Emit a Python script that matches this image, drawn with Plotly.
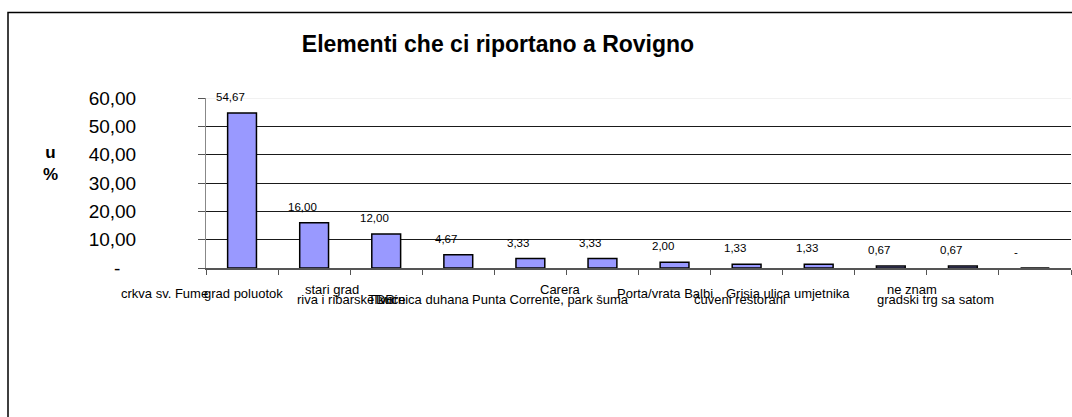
import plotly.graph_objects as go

# ---------------- data ----------------
chart_title = "Elementi che ci riportano a Rovigno"
y_title = "u<br>%"
values = [54.67, 16.00, 12.00, 4.67, 3.33, 3.33, 2.00, 1.33, 1.33, 0.67, 0.67, 0.00]
value_text = ["54,67", "16,00", "12,00", "4,67", "3,33", "3,33", "2,00",
              "1,33", "1,33", "0,67", "0,67", "-"]
y_tick_vals = [0, 10, 20, 30, 40, 50, 60]
y_tick_text = ["-\u00a0\u00a0\u00a0", "10,00", "20,00", "30,00", "40,00", "50,00", "60,00"]
category_labels = ["crkva sv. Fume", "grad poluotok", "stari grad", "riva i ribarske kuće",
                   "TDR", "Tvornica duhana", "Carera", "Punta Corrente, park šuma",
                   "Porta/vrata Balbi", "čuveni restorani", "Grisia ulica umjetnika",
                   "ne znam", "gradski trg sa satom"]

# ---------------- layout helpers ----------------
FONT = "Liberation Sans, Arial, sans-serif"
W, H = 1072, 417
L, R, T, B = 206, 1, 98, 149
PW, PH = W - L - R, H - T - B
n = len(values)


def px_to_paper_x(px):
    return (px - L) / PW


def py_to_paper(py):
    return (H - B - py) / PH


rows = {"up": py_to_paper(289.5), "mid": py_to_paper(293.5), "low": py_to_paper(299.5)}
# (pixel anchor, row, xanchor) for each displayed category label
label_layout = [(164, "mid", "center"), (243, "mid", "center"), (332, "up", "center"),
                (295, "low", "left"), (366, "low", "left"), (472, "low", "right"),
                (560, "up", "center"), (550, "low", "center"), (665, "mid", "center"),
                (692, "low", "left"), (788, "mid", "center"), (912, "up", "center"),
                (935, "low", "center")]

xs = list(range(n))

fig = go.Figure()
fig.add_trace(go.Bar(
    x=xs, y=values, width=0.4,
    marker=dict(color="#9999FF", line=dict(color="#000000", width=1.5)),
    hovertext=value_text, hoverinfo="text",
))

annotations = []
# value labels
for i, (v, t) in enumerate(zip(values, value_text)):
    annotations.append(dict(x=xs[i], y=v, xref="x", yref="y", text=t, showarrow=False,
                            yanchor="bottom", xanchor="center", yshift=8,
                            xshift=-12 if v > 0 else -19,
                            font=dict(family=FONT, size=11.5, color="#000")))
# category labels
for text, (px, row, xa) in zip(category_labels, label_layout):
    annotations.append(dict(x=px_to_paper_x(px), y=rows[row], xref="paper", yref="paper",
                            text=text, showarrow=False, xanchor=xa, yanchor="middle",
                            font=dict(family=FONT, size=13, color="#000")))
# y title
annotations.append(dict(x=px_to_paper_x(41), y=py_to_paper(163), xref="paper", yref="paper",
                        text="<b>" + y_title + "</b>", showarrow=False, align="center",
                        font=dict(family=FONT, size=17, color="#000")))

shapes = [
    # lighter top gridline
    dict(type="line", xref="paper", yref="y", x0=0, x1=1, y0=60, y1=60,
         line=dict(color="#e4e4e4", width=1), layer="between"),
    # outer frame
    dict(type="rect", xref="paper", yref="paper", x0=px_to_paper_x(8), x1=1.02,
         y0=py_to_paper(440), y1=py_to_paper(12.5),
         line=dict(color="#000", width=1.5), fillcolor="rgba(0,0,0,0)", layer="above"),
]

fig.update_layout(
    width=W, height=H,
    margin=dict(l=L, r=R, t=T, b=B),
    paper_bgcolor="white", plot_bgcolor="white",
    showlegend=False,
    title=dict(text="<b>" + chart_title + "</b>", x=498 / W, xanchor="center",
               y=1 - 44 / H, yanchor="middle",
               font=dict(family=FONT, size=23, color="#000")),
    xaxis=dict(range=[-0.5, n - 0.5], tickmode="array",
               tickvals=[k - 0.5 for k in range(n + 1)], showticklabels=False,
               ticks="outside", ticklen=5, tickcolor="#555", showgrid=False,
               showline=True, linecolor="#555", linewidth=1.5, zeroline=False),
    yaxis=dict(range=[0, 60], tickmode="array", tickvals=y_tick_vals, ticktext=y_tick_text,
               ticks="outside", ticklen=7, tickcolor="#555", showgrid=True,
               gridcolor="#1a1a1a", gridwidth=1, showline=True, linecolor="#888",
               zeroline=False, ticklabelstandoff=58,
               tickfont=dict(family=FONT, size=19, color="#000")),
    annotations=annotations,
    shapes=shapes,
)

fig.write_html("out.html")
